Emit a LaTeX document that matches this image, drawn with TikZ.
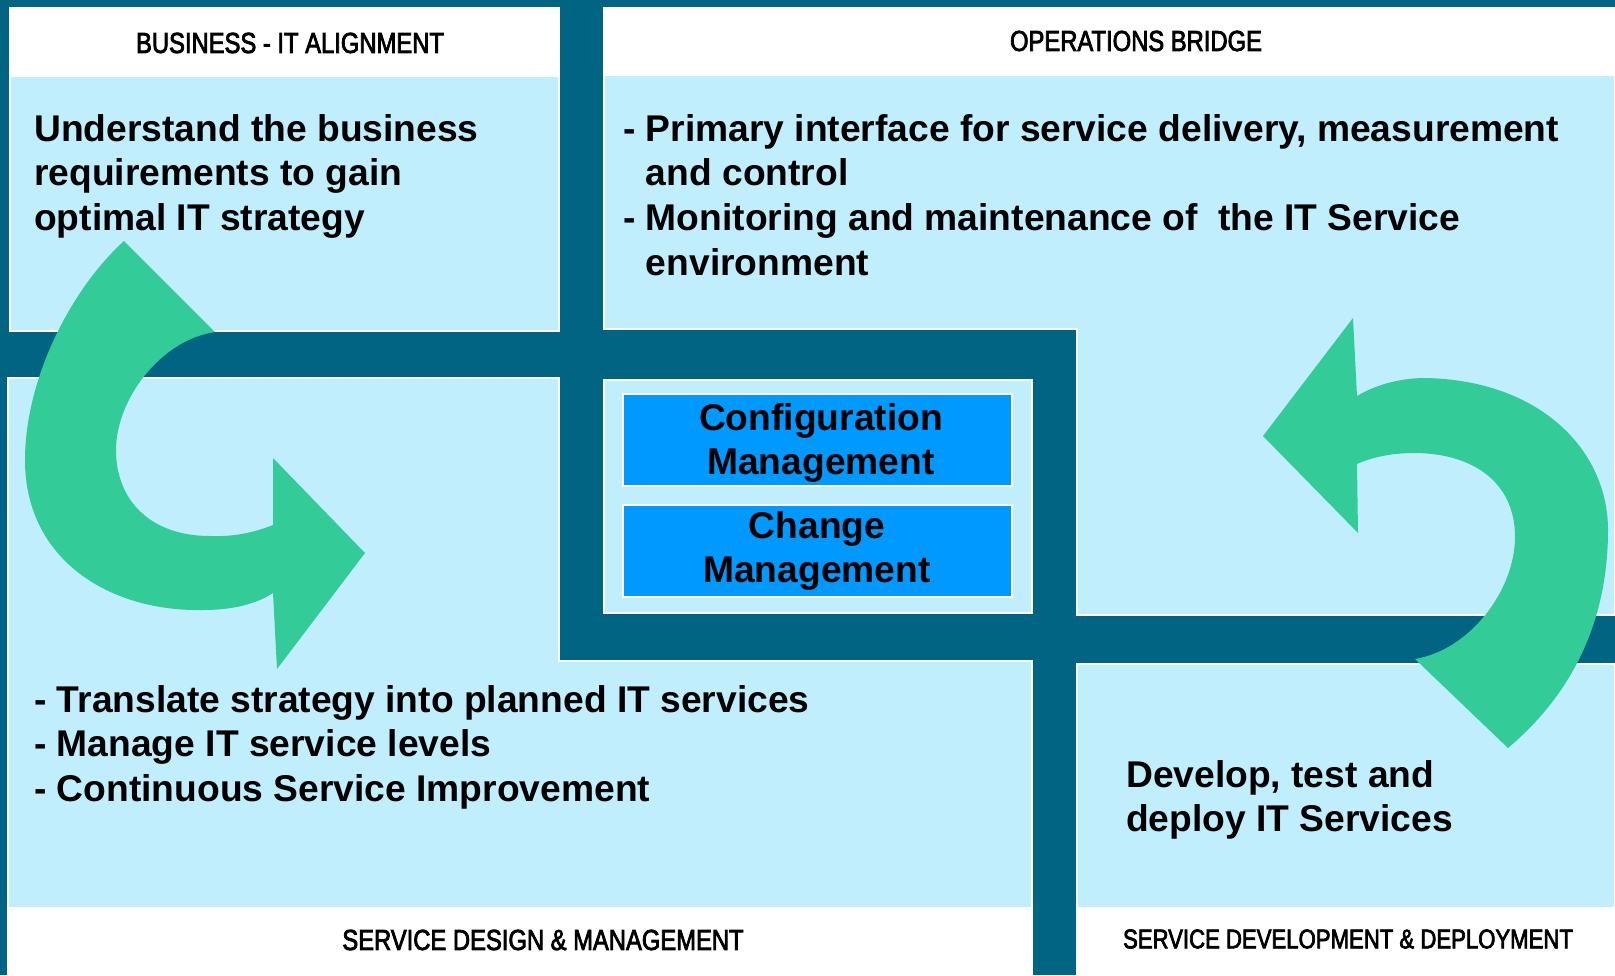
\documentclass[tikz,border=0pt]{standalone}
\usepackage{fontspec}
\setmainfont{Liberation Sans}
\newfontfamily\capsfont[FakeStretch=0.82,FakeBold=2.6]{Liberation Sans}

\definecolor{bgteal}{HTML}{006482}
\definecolor{paleblue}{HTML}{C0EEFC}
\definecolor{cmblue}{HTML}{0099FF}
\definecolor{turngreen}{HTML}{33CC99}

\tikzset{
  panel/.style={fill=paleblue, draw=white, line width=1.2pt},
  headband/.style={fill=white},
  cmbox/.style={fill=cmblue, draw=white, line width=1.5pt},
  turn/.style={fill=turngreen},
  bodytext/.style={font=\fontsize{37.2}{44.8}\selectfont\bfseries, align=left, inner sep=0pt},
  captext/.style={font=\capsfont\fontsize{29}{34}\selectfont, inner sep=0pt},
}

\begin{document}
\begin{tikzpicture}[x=1pt,y=-1pt]

\useasboundingbox (0,0) rectangle (1615,975);
\fill[bgteal] (0,0) rectangle (1615,975);

%the four quadrants
\draw[panel] (10,8) rectangle (559,331);
\draw[panel] (604,8) -- (1615,8) -- (1615,615) -- (1077,615) -- (1077,329) -- (604,329) -- cycle;
\draw[panel] (8,378) -- (559,378) -- (559,661) -- (1032,661) -- (1032,975) -- (8,975) -- cycle;
\draw[panel] (1077,664) rectangle (1615,975);

%white title bands
\fill[headband] (10,8) rectangle (559,77);
\fill[headband] (604,8) rectangle (1615,76);
\fill[headband] (8,907) rectangle (1032,975);
\fill[headband] (1077,907) rectangle (1615,975);

%centre block
\draw[panel] (604,380) rectangle (1032,613);
\draw[cmbox] (623,394) rectangle (1012,486);
\draw[cmbox] (623,505) rectangle (1012,597);

%left turning arrow
\fill[turn] (124,241) .. controls (70,290) and (25,380) .. (25,460)
  .. controls (25,560) and (110,612) .. (203,610)
  .. controls (235,610) and (258,603) .. (273,593)
  -- (277,669) -- (365,553) -- (273,458) -- (273,525)
  .. controls (255,532) and (235,537) .. (210,536)
  .. controls (150,536) and (116,500) .. (116,450)
  .. controls (116,400) and (160,340) .. (215,332) -- cycle;

%right turning arrow
\fill[turn] (1357,396) .. controls (1375,385) and (1400,378) .. (1425,378)
  .. controls (1540,380) and (1608,450) .. (1608,530)
  .. controls (1608,630) and (1565,700) .. (1508,748)
  -- (1415,659)
  .. controls (1470,650) and (1515,590) .. (1515,537)
  .. controls (1515,480) and (1470,453) .. (1414,453)
  .. controls (1390,453) and (1370,458) .. (1357,464)
  -- (1358,533) -- (1263,436) -- (1353,318) -- cycle;

%titles
\node[captext] (align) at (290,43) {BUSINESS - IT ALIGNMENT};
\node[captext] (bridge) at (1136,41) {OPERATIONS BRIDGE};
\node[captext] (design) at (543,940) {SERVICE DESIGN \& MANAGEMENT};
\node[captext, font=\capsfont\fontsize{27}{32}\selectfont] (deploy) at (1348,939) {SERVICE DEVELOPMENT \& DEPLOYMENT};

%texts
\node[bodytext, anchor=north west] (strategy) at (34,114)
  {Understand the business\\requirements to gain\\optimal IT strategy};
\node[bodytext, anchor=north west] (interface) at (623,114)
  {- Primary interface for service delivery, measurement\\\phantom{- }and control\\- Monitoring and maintenance of \ the IT Service\\\phantom{- }environment};
\node[bodytext, anchor=north west] (levels) at (34,685)
  {- Translate strategy into planned IT services\\- Manage IT service levels\\- Continuous Service Improvement};
\node[bodytext, anchor=north west] (services) at (1126,760)
  {Develop, test and\\deploy IT Services};
\node[bodytext, align=center] (config) at (821,443) {Configuration\\Management};
\node[bodytext, align=center] (change) at (817,551) {Change\\Management};

\end{tikzpicture}
\end{document}
